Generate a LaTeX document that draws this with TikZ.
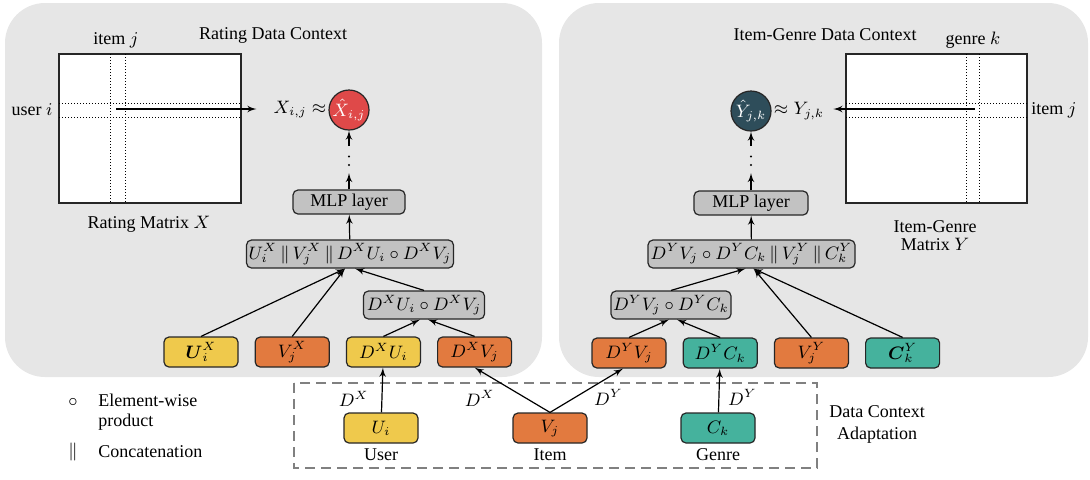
\documentclass[tikz,border=0pt]{standalone}
\usepackage{amsmath}
\usepackage{fontspec}
\setmainfont{Liberation Serif}
\usepackage{tikz}
\usetikzlibrary{arrows,positioning}
\definecolor{ctxgray}{HTML}{E6E6E6}
\definecolor{laygray}{HTML}{C2C2C2}
\definecolor{usercol}{HTML}{EFC94C}
\definecolor{itemcol}{HTML}{E27A3F}
\definecolor{genrecol}{HTML}{45B29D}
\definecolor{predxcol}{HTML}{DF4949}
\definecolor{predycol}{HTML}{2E4D5A}
\tikzset{
	%Define style for boxes
	vecbox/.style={
		rectangle,
		rounded corners=2.5pt,
		draw=black!85, line width=0.6pt,
		minimum width=37pt,
		minimum height=15pt,
		inner sep=1pt},
	laybox/.style={vecbox, fill=laygray, minimum height=14pt},
	predbox/.style={circle, draw=black!85, line width=0.6pt,
		minimum size=20pt, inner sep=0pt, text=white},
	matframe/.style={draw=black!85, line width=0.6pt, fill=white},
	cellline/.style={densely dotted, line width=0.5pt},
	dotline/.style={line width=1.1pt, line cap=round, dash pattern=on 0pt off 4.25pt}
}

\begin{document}
\begin{tikzpicture}[->,>=latex',x=0.5pt,y=-0.5pt,semithick,
	font=\fontsize{9}{10}\selectfont, node distance=8pt]
	\useasboundingbox (0,0) rectangle (1090,479);
	% the two data contexts
	\fill[ctxgray, rounded corners=20pt] (5,3) rectangle (542,377);
	\fill[ctxgray, rounded corners=20pt] (559,3) rectangle (1088,377);

	% rating side
	\draw[matframe,-] (59,54) rectangle (241,203);
	\draw[cellline,-] (110.5,54) -- (110.5,203) (125,54) -- (125,203)
		(59,103) -- (241,103) (59,117) -- (241,117);
	\coordinate (cellX) at (116,109);
	\node (ratctx) at (273,35) {Rating Data Context};
	\node (itemjX) at (116,40) {item $j$};
	\node (useriX) at (32,110) {user $i$};
	\node (ratmat) at (149,224) {Rating Matrix $X$};
	\node (xlab) at (300,110) {$X_{i,j} \approx$};
	\node[predbox, fill=predxcol] (xhat) at (349,110) {$\hat{X}_{i,j}$};
	\draw[shorten >=5pt] (cellX) -- (cellX -| xlab.west);

	\node[laybox, minimum width=56pt, minimum height=12pt] (mlpX) at (349,202) {MLP layer};
	\node[laybox, minimum width=103.5pt] (catX) at (350,254) {$U_i^X \,\|\, V_j^X \,\|\, D^X U_i \circ D^X V_j$};
	\node[laybox, minimum width=60.5pt] (prodX) at (424,305) {$D^X U_i \circ D^X V_j$};
	\node[vecbox, fill=usercol] (uX) at (201,352) {$\boldsymbol{U}_i^X$};
	\node[vecbox, fill=itemcol, right=of uX] (vX) {$V_j^X$};
	\node[vecbox, fill=usercol, right=of vX] (duX) {$D^X U_i$};
	\node[vecbox, fill=itemcol, right=of duX] (dvX) {$D^X V_j$};
	\coordinate (d1X) at (349,173);
	\coordinate (d2X) at (349,146);

	\draw (uX.north) -- ([xshift=-2.5pt]catX.south);
	\draw (vX.north) -- ([xshift=-2.5pt]catX.south);
	\draw (prodX.north) -- ([xshift=2.5pt]catX.south);
	\draw (duX.north) -- ([xshift=-2pt]prodX.south);
	\draw (dvX.north) -- ([xshift=2pt]prodX.south);
	\draw (catX) -- (mlpX);
	\draw (mlpX) -- (d1X);
	\draw[dotline,-] (d1X) ++(0,-8) -- ++(0,-17);
	\draw (d2X) -- (xhat);

	% item-genre side
	\draw[matframe,-] (846,54) rectangle (1027,203);
	\draw[cellline,-] (966,54) -- (966,203) (979,54) -- (979,203)
		(846,103) -- (1027,103) (846,117) -- (1027,117);
	\coordinate (cellY) at (975,109);
	\node (igctx) at (825,35) {Item-Genre Data Context};
	\node (genrek) at (973,40) {genre $k$};
	\node (itemjY) at (1054,110) {item $j$};
	\node[align=center] (igmat) at (935,236) {Item-Genre\\[-1pt]Matrix $Y$};
	\node (ylab) at (799,111) {$\approx Y_{j,k}$};
	\node[predbox, fill=predycol] (yhat) at (751,111) {$\hat{Y}_{j,k}$};
	\draw[shorten >=1pt] (cellY) -- (cellY -| ylab.east);

	\node[laybox, minimum width=57pt, minimum height=12pt] (mlpY) at (751,203) {MLP layer};
	\node[laybox, minimum width=103.5pt] (catY) at (751.5,254) {$D^Y V_j \circ D^Y C_k \,\|\, V_j^Y \,\|\, C_k^Y$};
	\node[laybox, minimum width=60pt] (prodY) at (671,305) {$D^Y V_j \circ D^Y C_k$};
	\node[vecbox, fill=itemcol] (dvY) at (629,353) {$D^Y V_j$};
	\node[vecbox, fill=genrecol, right=of dvY] (dcY) {$D^Y C_k$};
	\node[vecbox, fill=itemcol, right=of dcY] (vY) {$V_j^Y$};
	\node[vecbox, fill=genrecol, right=of vY] (cY) {$\boldsymbol{C}_k^Y$};
	\coordinate (d1Y) at (751,173);
	\coordinate (d2Y) at (751,146);

	\draw (prodY.north) -- ([xshift=-3pt]catY.south);
	\draw (vY.north) -- ([xshift=1pt]catY.south);
	\draw (cY.north) -- ([xshift=1pt]catY.south);
	\draw (dvY.north) -- ([xshift=-1pt]prodY.south);
	\draw (dcY.north) -- ([xshift=3pt]prodY.south);
	\draw (catY) -- (mlpY);
	\draw (mlpY) -- (d1Y);
	\draw[dotline,-] (d1Y) ++(0,-8) -- ++(0,-17);
	\draw (d2Y) -- (yhat);

	% data context adaptation
	\draw[-, dashed, draw=black!50, line width=1.1pt, dash pattern=on 5pt off 3pt]
		(294,383) rectangle (817,468);
	\node[vecbox, fill=usercol] (uIn) at (381,428) {$U_i$};
	\node[vecbox, fill=itemcol] (vIn) at (550,428) {$V_j$};
	\node[vecbox, fill=genrecol] (cIn) at (718,428) {$C_k$};
	\node[below=-1pt of uIn] (userlab) {User};
	\node[below=-1pt of vIn] (itemlab) {Item};
	\node[below=-1pt of cIn] (genrelab) {Genre};
	\draw (uIn) -- (duX) node[pos=0.3, left=3pt] {$D^X$};
	\draw (vIn.north) -- (dvX.south) node[pos=0.32, left=12pt] {$D^X$};
	\draw (vIn.north) -- ([xshift=-3pt]dvY.south) node[pos=0.34, right=6pt] {$D^Y$};
	\draw (cIn) -- (dcY) node[pos=0.34, right=1pt] {$D^Y$};
	\node[align=center] (dca) at (877,424) {Data Context\\[1pt]Adaptation};

	% legend
	\node (circsym) at (73,402) {$\circ$};
	\node[align=left, anchor=west] (ewlab) at (91,412) {Element-wise\\product};
	\node (catsym) at (73,452) {$\|$};
	\node[anchor=west] (catlab) at (91,452) {Concatenation};
\end{tikzpicture}
\end{document}
